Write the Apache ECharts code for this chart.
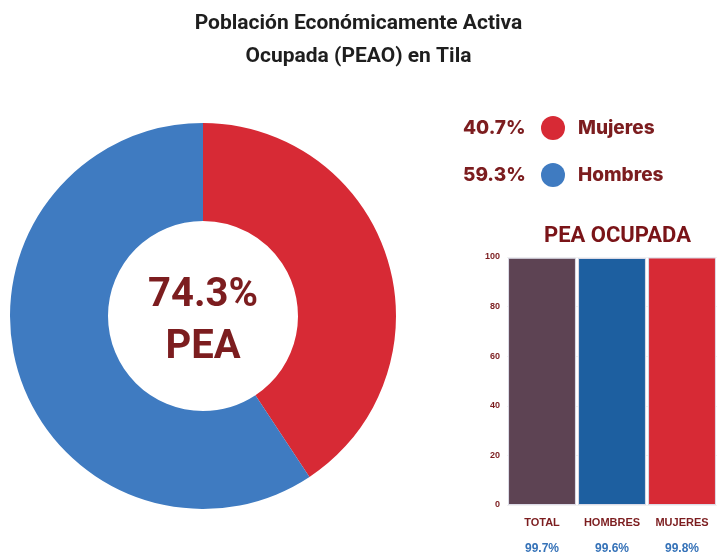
<!DOCTYPE html>
<html>
<head>
<meta charset="utf-8">
<title>PEAO Tila</title>
<script src="https://cdn.jsdelivr.net/npm/echarts@6/dist/echarts.min.js"></script>
<style>
html, body { margin: 0; padding: 0; background: #fff; }
#main { width: 717px; height: 554px; }
</style>
</head>
<body>
<div id="main"></div>
<script>
// datos del anillo
var sexos = ['Mujeres', 'Hombres'];
var pctSexo = [40.7, 59.3];
var coloresSexo = ['#D72A35', '#3F7BC1'];
var peaTotal = '74.3%';

// datos de barras
var categorias = ['TOTAL', 'HOMBRES', 'MUJERES'];
var ocupada = [99.7, 99.6, 99.8];
var coloresBarra = ['#5D4353', '#1D5FA0', '#D72A35'];
var ticksY = [0, 20, 40, 60, 80, 100];

var rojoOscuro = '#7C1D1F';

var myChart = echarts.init(document.getElementById('main'));

var graficos = [];
// porcentajes a la izquierda de la leyenda
for (var i = 0; i < sexos.length; i++) {
  graficos.push({
    type: 'text', x: 463, y: 128 + i * 47,
    style: { text: pctSexo[i].toFixed(1) + '%', fill: rojoOscuro, verticalAlign: 'middle',
      font: '800 19px Inter, sans-serif' }
  });
}
// texto central del anillo
graficos.push({
  type: 'text', x: 203, y: 322,
  style: { text: peaTotal + '\nPEA', fill: rojoOscuro, align: 'center', verticalAlign: 'middle',
    font: 'bold 40px Roboto, sans-serif', lineHeight: 52 }
});

var option = {
  title: [
    {
      text: 'Población Económicamente Activa\nOcupada (PEAO) en Tila',
      left: 'center', top: 2,
      textStyle: { fontFamily: 'Roboto', fontWeight: 'bold', fontSize: 21, color: '#1e1e1e', lineHeight: 33 }
    },
    {
      text: 'PEA OCUPADA', left: 539, top: 220,
      textStyle: { fontFamily: '"Liberation Sans Narrow", Roboto', fontWeight: 'bold', fontSize: 22, color: '#7A1418' }
    }
  ],
  legend: {
    orient: 'vertical', left: 541, top: 116, padding: 0,
    icon: 'circle', itemWidth: 24, itemHeight: 24, itemGap: 23,
    selectedMode: false,
    data: sexos,
    textStyle: { color: rojoOscuro, fontWeight: 800, fontSize: 19, fontFamily: 'Inter, sans-serif', padding: [0, 0, 0, 8] }
  },
  graphic: graficos,
  grid: { left: 507, right: 0, top: 257, bottom: 49, outerBoundsMode: 'none', containLabel: false },
  xAxis: {
    type: 'category', data: categorias,
    axisLine: { show: false }, axisTick: { show: false },
    axisLabel: {
      interval: 0, margin: 7,
      formatter: function (v, idx) {
        return '{a|' + v + '}\n{b|' + ocupada[idx].toFixed(1) + '%}';
      },
      rich: {
        a: { color: rojoOscuro, fontWeight: 'bold', fontSize: 11, fontFamily: '"Liberation Sans"', lineHeight: 22 },
        b: { color: '#3572B8', fontWeight: 'bold', fontSize: 12, fontFamily: '"Liberation Sans"', lineHeight: 30 }
      }
    }
  },
  yAxis: {
    type: 'value', min: ticksY[0], max: ticksY[ticksY.length - 1], interval: 20,
    axisLine: { show: false }, axisTick: { show: false },
    splitLine: { lineStyle: { color: '#f2f2f2' } },
    axisLabel: { color: rojoOscuro, fontWeight: 'bold', fontSize: 9, margin: 7, fontFamily: '"Liberation Sans"' }
  },
  series: [
    {
      type: 'pie', center: [203, 316], radius: [95, 193],
      startAngle: 90, clockwise: true,
      label: { show: false }, labelLine: { show: false },
      silent: true,
      data: sexos.map(function (s, i) {
        return { name: s, value: pctSexo[i], itemStyle: { color: coloresSexo[i] } };
      })
    },
    {
      type: 'bar', barCategoryGap: '3%',
      data: ocupada.map(function (v, i) {
        return { value: v, itemStyle: { color: coloresBarra[i], borderColor: '#dcdce8', borderWidth: 1 } };
      })
    }
  ]
};
myChart.setOption(option);
</script>
</body>
</html>
